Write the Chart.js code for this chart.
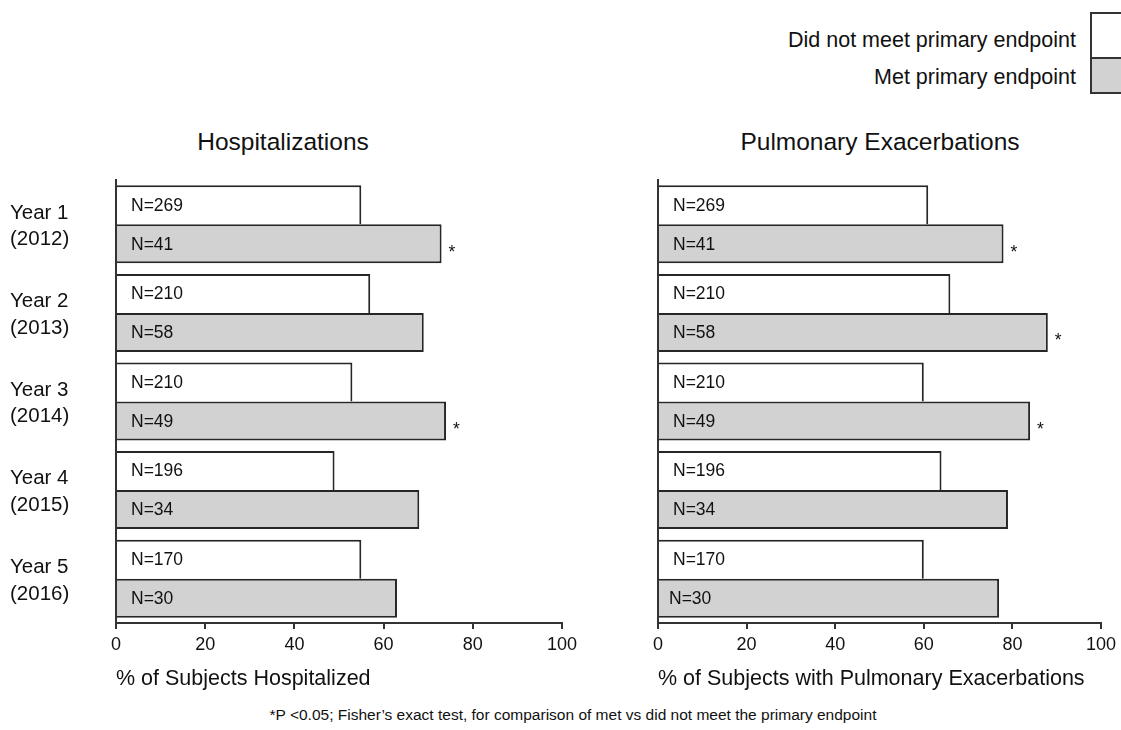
<!DOCTYPE html>
<html>
<head>
<meta charset="utf-8">
<script src="https://cdn.jsdelivr.net/npm/chart.js@4.4.1/dist/chart.umd.min.js"></script>
<style>
  html, body { margin:0; padding:0; background:#fff; }
  #wrap { position:relative; width:1121px; height:730px; overflow:hidden; background:#fff;
          font-family:"Liberation Sans", Arial, Helvetica, sans-serif; color:#111; }
  .t { position:absolute; white-space:nowrap; line-height:1; }
  .c { transform:translate(-50%,-50%); }
  canvas { position:absolute; }
</style>
</head>
<body>
<div id="wrap">
  <div class="t" style="right:45px; top:30px; font-size:21.5px;">Did not meet primary endpoint</div>
  <div class="t" style="right:45px; top:67px; font-size:21.5px;">Met primary endpoint</div>
  <div style="position:absolute; left:1090px; top:12px; width:40px; height:47px; background:#fff; border:2px solid #333; box-sizing:border-box;"></div>
  <div style="position:absolute; left:1090px; top:57px; width:40px; height:37px; background:#d2d2d2; border:2px solid #333; box-sizing:border-box;"></div>

  <div class="t c" style="left:283px; top:142px; font-size:24.5px;">Hospitalizations</div>
  <div class="t c" style="left:880px; top:142px; font-size:24.5px;">Pulmonary Exacerbations</div>

  <canvas id="left" width="600" height="530" style="left:0px; top:170px;"></canvas>
  <canvas id="right" width="501" height="530" style="left:620px; top:170px;"></canvas>

  <div class="t c" style="left:573px; top:715px; font-size:15.5px;">*P &lt;0.05; Fisher’s exact test, for comparison of met vs did not meet the primary endpoint</div>
</div>
<script>
// ---- data ----
const years = [["Year 1","(2012)"],["Year 2","(2013)"],["Year 3","(2014)"],["Year 4","(2015)"],["Year 5","(2016)"]];
const seriesNames = ["Did not meet primary endpoint", "Met primary endpoint"];
const hospNotMet = [55, 57, 53, 49, 55];
const hospMet    = [73, 69, 74, 68, 63];
const pulmNotMet = [61, 66, 60, 64, 60];
const pulmMet    = [78, 88, 84, 79, 77];
const nNotMet = [269, 210, 210, 196, 170];
const nMet    = [41, 58, 49, 34, 30];
const hospSig = [true, false, true, false, false];
const pulmSig = [true, true, true, false, false];
const xMin = 0, xMax = 100, xStep = 20;

const FONT = '"Liberation Sans", Arial, Helvetica, sans-serif';
const INK = '#111';
const LINE = '#333';

function labelPlugin(sig, nudge) {
  return {
    id: 'barLabels',
    afterDatasetsDraw(chart) {
      const ctx = chart.ctx;
      ctx.save();
      ctx.font = '17.5px ' + FONT;
      ctx.fillStyle = INK;
      [0, 1].forEach(di => {
        const meta = chart.getDatasetMeta(di);
        const ns = di === 0 ? nNotMet : nMet;
        meta.data.forEach((bar, i) => {
          ctx.textAlign = 'left';
          ctx.textBaseline = 'middle';
          const dx = (nudge && nudge[di + '-' + i]) || 0;
          ctx.fillText('N=' + ns[i], chart.chartArea.left + 15 + dx, bar.y + 1);
          if (di === 1 && sig[i]) {
            ctx.textBaseline = 'alphabetic';
            ctx.fillText('*', bar.x + 7, bar.y + 14);
          }
        });
      });
      ctx.restore();
    }
  };
}

function makeChart(id, notMet, met, sig, axisTitle, showYears, yWidth, padLeft, padRight, nudge) {
  return new Chart(document.getElementById(id), {
    type: 'bar',
    data: {
      labels: years,
      datasets: [
        { label: seriesNames[0], data: notMet, backgroundColor: '#ffffff', borderColor: '#262626',
          borderWidth: {top: 2, right: 2, bottom: 0, left: 0}, borderSkipped: 'start',
          categoryPercentage: 0.88, barPercentage: 1.0 },
        { label: seriesNames[1], data: met, backgroundColor: '#d2d2d2', borderColor: '#262626',
          borderWidth: {top: 2, right: 2, bottom: 2, left: 0}, borderSkipped: 'start',
          categoryPercentage: 0.88, barPercentage: 1.0 }
      ]
    },
    options: {
      indexAxis: 'y',
      responsive: false,
      animation: false,
      devicePixelRatio: 1,
      layout: { padding: { top: 10, left: padLeft, right: padRight, bottom: 0 } },
      plugins: { legend: { display: false }, tooltip: { enabled: false }, title: { display: false } },
      scales: {
        x: {
          type: 'linear', min: xMin, max: xMax,
          ticks: { stepSize: xStep, color: INK, font: { family: FONT, size: 18 }, padding: 5, maxRotation: 0 },
          grid: { display: true, drawOnChartArea: false, drawTicks: true, tickLength: 6, color: LINE, lineWidth: 2 },
          border: { display: true, color: LINE, width: 2 },
          title: { display: true, text: axisTitle, align: 'start', color: INK,
                   font: { family: FONT, size: 21.5 }, padding: { top: 4, bottom: 8 } },
          afterFit(s) { s.height = 77; s.paddingLeft = 0; }
        },
        y: {
          type: 'category', offset: true, z: 1,
          ticks: { display: showYears, crossAlign: 'far', color: INK,
                   font: { family: FONT, size: 20.5, lineHeight: 1.3 }, padding: 0, labelOffset: 2 },
          grid: { display: true, drawOnChartArea: false, drawTicks: false, color: LINE },
          border: { display: true, color: LINE, width: 2 },
          afterFit(s) { s.width = yWidth; s.paddingTop = 0; s.paddingBottom = 0; }
        }
      }
    },
    plugins: [labelPlugin(sig, nudge)]
  });
}

makeChart('left', hospNotMet, hospMet, hospSig, '% of Subjects Hospitalized', true, 106, 10, 38, null);
makeChart('right', pulmNotMet, pulmMet, pulmSig, '% of Subjects with Pulmonary Exacerbations', false, 38, 0, 18, {'1-4': -4});
</script>
</body>
</html>
